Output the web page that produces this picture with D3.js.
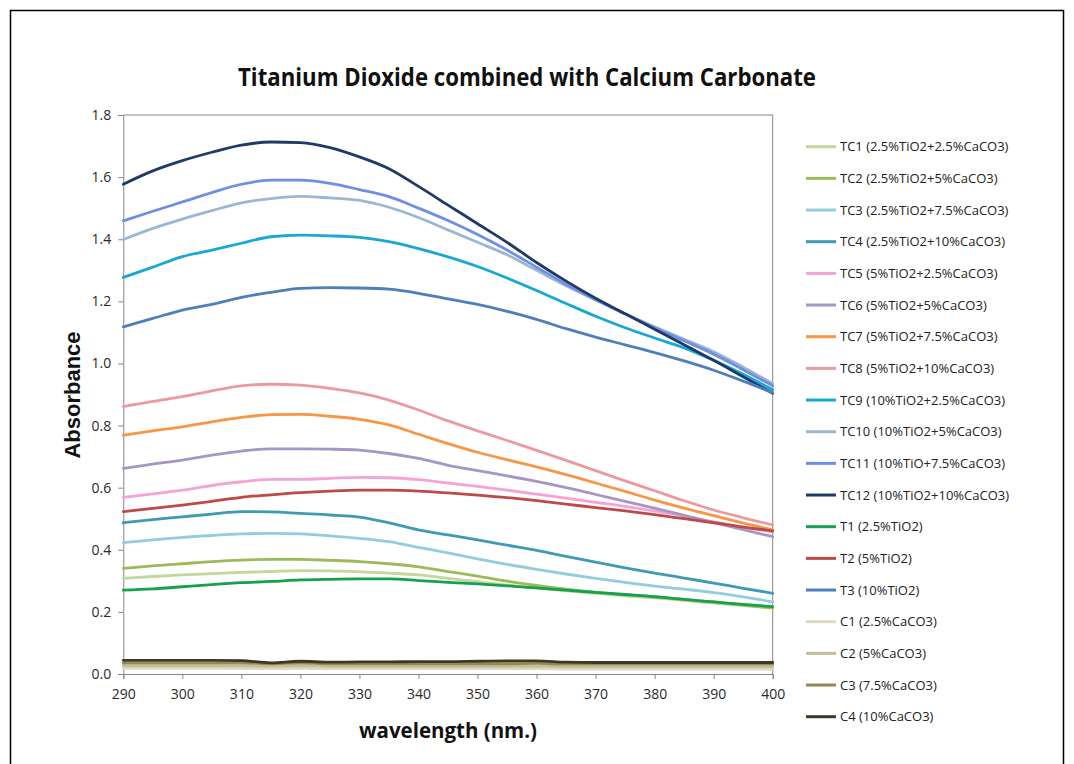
<!DOCTYPE html>
<html>
<head>
<meta charset="utf-8">
<script src="https://cdn.jsdelivr.net/npm/d3@7"></script>
<style>
  html, body { margin: 0; padding: 0; background: #fff; }
  svg { display: block; }
</style>
</head>
<body>
<svg id="chart" width="1074" height="764"></svg>
<script>
// Wavelengths (nm), sampled every 5 nm
const wavelengths = [290,295,300,305,310,315,320,325,330,335,340,345,350,355,360,365,370,375,380,385,390,395,400];

// Absorbance for each sample
const TC1  = [0.308,0.314,0.319,0.323,0.327,0.330,0.333,0.332,0.329,0.325,0.319,0.308,0.297,0.286,0.277,0.268,0.260,0.252,0.245,0.237,0.228,0.220,0.212];
const TC2  = [0.340,0.348,0.355,0.362,0.367,0.369,0.369,0.366,0.362,0.355,0.345,0.330,0.315,0.299,0.285,0.273,0.263,0.255,0.248,0.240,0.232,0.222,0.213];
const TC3  = [0.423,0.432,0.440,0.446,0.451,0.453,0.451,0.445,0.437,0.426,0.408,0.390,0.371,0.353,0.337,0.322,0.308,0.295,0.283,0.273,0.262,0.248,0.232];
const TC4  = [0.487,0.497,0.506,0.515,0.523,0.522,0.517,0.512,0.505,0.487,0.464,0.448,0.432,0.415,0.398,0.379,0.360,0.342,0.325,0.309,0.293,0.276,0.260];
const TC5  = [0.569,0.580,0.592,0.607,0.619,0.627,0.627,0.630,0.633,0.632,0.626,0.615,0.604,0.592,0.579,0.566,0.553,0.540,0.525,0.509,0.490,0.473,0.458];
const TC6  = [0.662,0.676,0.689,0.705,0.718,0.725,0.725,0.724,0.721,0.710,0.694,0.672,0.655,0.638,0.620,0.600,0.578,0.556,0.534,0.511,0.488,0.465,0.442];
const TC7  = [0.769,0.783,0.796,0.812,0.826,0.835,0.836,0.830,0.820,0.802,0.772,0.742,0.714,0.690,0.667,0.642,0.615,0.588,0.560,0.534,0.510,0.486,0.464];
const TC8  = [0.861,0.878,0.893,0.912,0.928,0.933,0.930,0.920,0.905,0.882,0.850,0.815,0.783,0.752,0.720,0.688,0.655,0.622,0.590,0.558,0.528,0.503,0.480];
const TC9  = [1.277,1.310,1.344,1.365,1.387,1.408,1.413,1.411,1.406,1.392,1.370,1.343,1.312,1.275,1.235,1.193,1.152,1.115,1.082,1.050,1.010,0.965,0.915];
const TC10 = [1.399,1.435,1.465,1.492,1.517,1.531,1.538,1.533,1.525,1.503,1.470,1.430,1.390,1.350,1.300,1.250,1.205,1.160,1.118,1.078,1.038,0.988,0.935];
const TC11 = [1.459,1.490,1.520,1.550,1.577,1.590,1.590,1.580,1.560,1.537,1.500,1.460,1.415,1.365,1.310,1.255,1.205,1.160,1.115,1.073,1.030,0.980,0.928];
const TC12 = [1.577,1.620,1.653,1.680,1.703,1.713,1.711,1.695,1.665,1.627,1.570,1.510,1.450,1.390,1.325,1.265,1.210,1.160,1.110,1.060,1.010,0.957,0.904];
const T1   = [0.270,0.274,0.281,0.288,0.294,0.298,0.303,0.305,0.306,0.306,0.301,0.295,0.290,0.284,0.277,0.270,0.263,0.256,0.249,0.240,0.232,0.224,0.217];
const T2   = [0.523,0.533,0.544,0.556,0.569,0.577,0.584,0.589,0.592,0.592,0.589,0.583,0.576,0.568,0.558,0.547,0.536,0.525,0.513,0.500,0.487,0.473,0.461];
const T3   = [1.118,1.145,1.172,1.190,1.213,1.229,1.242,1.244,1.243,1.239,1.226,1.208,1.190,1.168,1.142,1.112,1.085,1.060,1.035,1.008,0.978,0.943,0.906];
const C1   = [0.018,0.018,0.018,0.018,0.018,0.017,0.018,0.017,0.017,0.017,0.017,0.017,0.017,0.017,0.017,0.016,0.016,0.016,0.016,0.016,0.016,0.016,0.016];
const C2   = [0.026,0.026,0.026,0.026,0.026,0.025,0.026,0.025,0.025,0.025,0.025,0.025,0.025,0.025,0.025,0.024,0.024,0.024,0.024,0.024,0.024,0.024,0.024];
const C3   = [0.035,0.035,0.035,0.035,0.035,0.033,0.035,0.033,0.033,0.033,0.033,0.033,0.033,0.033,0.034,0.032,0.032,0.032,0.032,0.032,0.032,0.032,0.032];
const C4   = [0.044,0.044,0.044,0.044,0.043,0.036,0.041,0.038,0.039,0.039,0.040,0.040,0.041,0.042,0.042,0.038,0.037,0.037,0.037,0.037,0.037,0.037,0.037];

const seriesNames = [
  "TC1 (2.5%TiO2+2.5%CaCO3)", "TC2 (2.5%TiO2+5%CaCO3)", "TC3 (2.5%TiO2+7.5%CaCO3)",
  "TC4 (2.5%TiO2+10%CaCO3)", "TC5 (5%TiO2+2.5%CaCO3)", "TC6 (5%TiO2+5%CaCO3)",
  "TC7 (5%TiO2+7.5%CaCO3)", "TC8 (5%TiO2+10%CaCO3)", "TC9 (10%TiO2+2.5%CaCO3)",
  "TC10 (10%TiO2+5%CaCO3)", "TC11 (10%TiO+7.5%CaCO3)", "TC12 (10%TiO2+10%CaCO3)",
  "T1 (2.5%TiO2)", "T2 (5%TiO2)", "T3 (10%TiO2)",
  "C1 (2.5%CaCO3)", "C2 (5%CaCO3)", "C3 (7.5%CaCO3)", "C4 (10%CaCO3)"
];
const seriesValues = [TC1,TC2,TC3,TC4,TC5,TC6,TC7,TC8,TC9,TC10,TC11,TC12,T1,T2,T3,C1,C2,C3,C4];
const seriesColors = [
  "#c3d69b", "#9bbb59", "#93cddd", "#3f9bb3", "#f5a3d4", "#a696c6",
  "#f79646", "#eb9aa0", "#17a8d6", "#9db6d2", "#6f8fe2", "#1f3a64",
  "#16a050", "#bb4a48", "#4f7fba",
  "#dcd8c2", "#c4bd97", "#948a54", "#3c3826"
];

const xTicks = [290,300,310,320,330,340,350,360,370,380,390,400];
const yTicks = [0,0.2,0.4,0.6,0.8,1.0,1.2,1.4,1.6,1.8];

const titleText = "Titanium Dioxide combined with Calcium Carbonate";
const xTitle = "wavelength (nm.)";
const yTitle = "Absorbance";

// ---- layout ----
const svg = d3.select("#chart");
const W = 1074, H = 764;
const plot = { left: 123.3, right: 772.7, top: 115, bottom: 674 };
const axisGrey = "#868686";
const labelFont = "'Open Sans', 'DejaVu Sans', sans-serif";

svg.append("rect").attr("width", W).attr("height", H).attr("fill", "#fff");

// outer frame of the figure
svg.append("rect")
  .attr("x", 10.5).attr("y", 10.5).attr("width", 1053).attr("height", 800)
  .attr("fill", "none").attr("stroke", "#000").attr("stroke-width", 1.5);

const x = d3.scaleLinear().domain([290, 400]).range([plot.left, plot.right]);
const y = d3.scaleLinear().domain([0, 1.8]).range([plot.bottom, plot.top]);

// plot-area border (top and right)
svg.append("path")
  .attr("d", `M${plot.left},${plot.top}H${plot.right}V${plot.bottom}`)
  .attr("fill", "none").attr("stroke", axisGrey).attr("stroke-width", 1);

// axes
const yAxis = svg.append("g")
  .attr("transform", `translate(${plot.left},0)`)
  .call(d3.axisLeft(y).tickValues(yTicks).tickSize(5).tickPadding(7).tickFormat(d3.format(".1f")));
const xAxis = svg.append("g")
  .attr("transform", `translate(0,${plot.bottom})`)
  .call(d3.axisBottom(x).tickValues(xTicks).tickSize(5).tickPadding(10).tickFormat(d3.format("d")));

[xAxis, yAxis].forEach(g => {
  g.select(".domain").attr("stroke", axisGrey);
  g.selectAll(".tick line").attr("stroke", axisGrey);
  g.selectAll(".tick text")
    .attr("fill", "#2a2a2a")
    .style("font-family", labelFont)
    .style("font-size", "14px");
});

// series lines
const line = d3.line()
  .x((d, i) => x(wavelengths[i]))
  .y(d => y(d))
  .curve(d3.curveMonotoneX);

svg.append("g").selectAll("path")
  .data(seriesValues)
  .join("path")
  .attr("d", d => line(d))
  .attr("fill", "none")
  .attr("stroke", (d, i) => seriesColors[i])
  .attr("stroke-width", 2.8)
  .attr("stroke-linejoin", "round")
  .attr("stroke-linecap", "round");

// title
svg.append("text")
  .attr("x", 527).attr("y", 86)
  .attr("text-anchor", "middle")
  .attr("textLength", 578).attr("lengthAdjust", "spacingAndGlyphs")
  .style("font-family", labelFont)
  .style("font-weight", 700)
  .style("font-size", "25px")
  .attr("fill", "#111")
  .text(titleText);

// axis titles
svg.append("text")
  .attr("x", 448).attr("y", 738)
  .attr("text-anchor", "middle")
  .attr("textLength", 178).attr("lengthAdjust", "spacingAndGlyphs")
  .style("font-family", labelFont)
  .style("font-weight", 700)
  .style("font-size", "21px")
  .attr("fill", "#111")
  .text(xTitle);

svg.append("text")
  .attr("transform", "translate(80,395) rotate(-90)")
  .attr("text-anchor", "middle")
  .style("font-family", "'Liberation Sans', Arial, sans-serif")
  .style("font-weight", 700)
  .style("font-size", "22px")
  .attr("fill", "#111")
  .text(yTitle);

// legend
const legend = svg.append("g");
const rowY = d3.scaleLinear().domain([0, seriesNames.length - 1]).range([146.7, 716.7]);
const items = legend.selectAll("g")
  .data(seriesNames)
  .join("g")
  .attr("transform", (d, i) => `translate(0,${rowY(i)})`);
items.append("line")
  .attr("x1", 806).attr("x2", 836)
  .attr("stroke", (d, i) => seriesColors[i])
  .attr("stroke-width", 3);
items.append("text")
  .attr("x", 840).attr("dy", "0.35em")
  .style("font-family", labelFont)
  .style("font-size", "13px")
  .attr("fill", "#222")
  .text(d => d);
</script>
</body>
</html>
